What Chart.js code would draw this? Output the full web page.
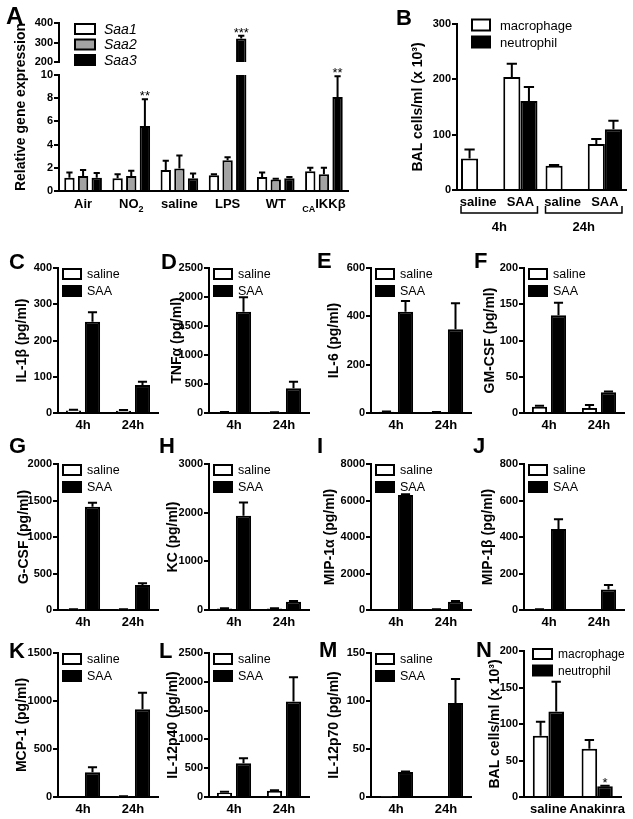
<!DOCTYPE html>
<html>
<head>
<meta charset="utf-8">
<script src="https://cdn.jsdelivr.net/npm/chart.js@4.4.1/dist/chart.umd.min.js"></script>
<style>
  body { margin: 0; background: #fff; }
  #fig { position: relative; width: 633px; height: 819px; overflow: hidden;
         font-family: 'Liberation Sans', Arial, Helvetica, sans-serif; color: #000; }
  #fig canvas { position: absolute; }
  .letter { position: absolute; font-weight: bold; font-size: 22px; line-height: 22px; }
  .vtitle { position: absolute; font-weight: bold; font-size: 14px; white-space: nowrap;
            transform: translate(-50%, -50%) rotate(-90deg); }
</style>
</head>
<body>
<div id="fig"></div>
<script>
// ---- panel A: relative gene expression ----
const aCategories = ['Air', 'NO_{2}', 'saline', 'LPS', 'WT', '_{CA}IKKβ'];
const saa1 = [1.15, 1.1, 1.8, 1.35, 1.2, 1.7];
const saa1Sem = [0.45, 0.35, 0.8, 0.1, 0.4, 0.3];
const saa2 = [1.3, 1.3, 1.95, 2.65, 1.0, 1.45];
const saa2Sem = [0.5, 0.45, 1.1, 0.25, 0.05, 0.55];
const saa3 = [1.15, 5.6, 1.1, 320, 1.1, 8.1];
const saa3Sem = [0.4, 2.3, 0.4, 15, 0.1, 1.8];
const saa3Stars = ['', '**', '', '***', '', '**'];
const aLowTicks = [0, 2, 4, 6, 8, 10];
const aHighTicks = [200, 300, 400];

// ---- panel B: BAL cells ----
const bCategories = ['saline', 'SAA', 'saline', 'SAA'];
const bGroupLabels = ['4h', '24h'];
const bGroupSpans = [[0, 1], [2, 3]];
const bMacrophage = [57, 204, 44, 83];
const bMacrophageSem = [16, 24, 1, 9];
const bNeutrophil = [null, 161, null, 110];
const bNeutrophilSem = [null, 25, null, 15];
const bTicks = [0, 100, 200, 300];

// ---- panels C-M: cytokines, saline vs SAA ----
const timepoints = ['4h', '24h'];
const il1bSaline = [7, 6], il1bSalineSem = [2, 2], il1bSaa = [252, 77], il1bSaaSem = [26, 9];
const il1bTicks = [0, 100, 200, 300, 400];
const tnfSaline = [12, 10], tnfSalineSem = [4, 4], tnfSaa = [1747, 425], tnfSaaSem = [248, 115];
const tnfTicks = [0, 500, 1000, 1500, 2000, 2500];
const il6Saline = [5, 3], il6SalineSem = [1, 1], il6Saa = [419, 347], il6SaaSem = [44, 107];
const il6Ticks = [0, 200, 400, 600];
const gmcsfSaline = [8.5, 7], gmcsfSalineSem = [1.5, 4], gmcsfSaa = [135, 28.5], gmcsfSaaSem = [17, 1];
const gmcsfTicks = [0, 50, 100, 150, 200];
const gcsfSaline = [8, 8], gcsfSalineSem = [2, 2], gcsfSaa = [1415, 342], gcsfSaaSem = [55, 23];
const gcsfTicks = [0, 500, 1000, 1500, 2000];
const kcSaline = [30, 30], kcSalineSem = [5, 5], kcSaa = [1937, 170], kcSaaSem = [273, 15];
const kcTicks = [0, 1000, 2000, 3000];
const mip1aSaline = [0, 40], mip1aSalineSem = [0, 5], mip1aSaa = [6300, 455], mip1aSaaSem = [40, 35];
const mip1aTicks = [0, 2000, 4000, 6000, 8000];
const mip1bSaline = [3, 0], mip1bSalineSem = [1, 0], mip1bSaa = [444, 113], mip1bSaaSem = [53, 24];
const mip1bTicks = [0, 200, 400, 600, 800];
const mcp1Saline = [0, 5], mcp1SalineSem = [0, 2], mcp1Saa = [257, 913], mcp1SaaSem = [52, 173];
const mcp1Ticks = [0, 500, 1000, 1500];
const p40Saline = [75, 110], p40SalineSem = [17, 8], p40Saa = [585, 1660], p40SaaSem = [87, 420];
const p40Ticks = [0, 500, 1000, 1500, 2000, 2500];
const p70Saline = [0.5, 0], p70SalineSem = [0, 0], p70Saa = [26, 98], p70SaaSem = [0.5, 25];
const p70Ticks = [0, 50, 100, 150];

// ---- panel N: Anakinra ----
const nCategories = ['saline', 'Anakinra'];
const nMacrophage = [84, 66], nMacrophageSem = [19, 12];
const nNeutrophil = [117, 14.7], nNeutrophilSem = [41, 0.8];
const nNeutrophilStars = ['', '*'];
const nTicks = [0, 50, 100, 150, 200];

const FONT = "'Liberation Sans', Arial, Helvetica, sans-serif";
Chart.defaults.font.family = FONT;
Chart.defaults.color = '#000';

const fig = document.getElementById('fig');
const YW = 58, PR = 4;
const WHITE = '#ffffff', GREY = '#a3a3a3', BLACK = '#000000';

// upward SEM bars and significance stars
const errorBars = {
  id: 'errorBars',
  afterDatasetsDraw(chart) {
    const ctx = chart.ctx, y = chart.scales.y;
    chart.data.datasets.forEach((ds, i) => {
      const meta = chart.getDatasetMeta(i);
      meta.data.forEach((bar, j) => {
        const v = ds.data[j];
        if (v == null || v > y.max) return;
        const e = ds.errors ? (ds.errors[j] || 0) : 0;
        const top = y.getPixelForValue(v + e);
        ctx.save();
        ctx.strokeStyle = '#000';
        ctx.lineWidth = 2;
        if (e > 0) {
          const cap = bar.width * 0.3;
          ctx.beginPath();
          ctx.moveTo(bar.x, bar.y);
          ctx.lineTo(bar.x, top);
          ctx.moveTo(bar.x - cap, top);
          ctx.lineTo(bar.x + cap, top);
          ctx.stroke();
        }
        if (ds.stars && ds.stars[j]) {
          ctx.fillStyle = '#000';
          ctx.font = '13px ' + FONT;
          ctx.textAlign = 'center';
          ctx.textBaseline = 'alphabetic';
          ctx.fillText(ds.stars[j], bar.x, top + 1);
        }
        ctx.restore();
      });
    });
  }
};

// boxed legend inside the plot area
const boxLegend = {
  id: 'boxLegend',
  afterDraw(chart, args, o) {
    const {ctx, chartArea} = chart;
    chart.data.datasets.forEach((ds, k) => {
      const x = chartArea.left + o.dx;
      const yc = chartArea.top + o.dy + k * o.gap;
      ctx.save();
      ctx.fillStyle = ds.backgroundColor;
      ctx.fillRect(x, yc - o.bh / 2, o.bw, o.bh);
      ctx.strokeStyle = '#000';
      ctx.lineWidth = 2;
      ctx.strokeRect(x, yc - o.bh / 2, o.bw, o.bh);
      ctx.fillStyle = '#000';
      ctx.font = o.font;
      ctx.textBaseline = 'middle';
      ctx.textAlign = 'left';
      ctx.fillText(ds.label, x + o.bw + o.tg, yc + 1);
      ctx.restore();
    });
  }
};

// category labels with subscripts written as _{..}
const subLabels = {
  id: 'subLabels',
  afterDraw(chart) {
    const {ctx, chartArea, scales: {x}} = chart;
    const mainFont = 'bold 13px ' + FONT, subFont = 'bold 9px ' + FONT;
    ctx.save();
    ctx.fillStyle = '#000';
    ctx.textAlign = 'left';
    ctx.textBaseline = 'alphabetic';
    chart.data.labels.forEach((lab, i) => {
      const parts = lab.split(/(_\{[^}]*\})/).filter(Boolean).map(p =>
        p.startsWith('_{') ? {t: p.slice(2, -1), sub: true} : {t: p, sub: false});
      let total = 0;
      parts.forEach(p => {
        ctx.font = p.sub ? subFont : mainFont;
        p.w = ctx.measureText(p.t).width;
        total += p.w;
      });
      let cx = x.getPixelForValue(i) - total / 2;
      const base = chartArea.bottom + 17;
      parts.forEach(p => {
        ctx.font = p.sub ? subFont : mainFont;
        ctx.fillText(p.t, cx, p.sub ? base + 4 : base);
        cx += p.w;
      });
    });
    ctx.restore();
  }
};

// brackets grouping categories under the axis
function groupBrackets(labels, spans, catPct) {
  return {
    id: 'groupBrackets',
    afterDraw(chart) {
      const {ctx, chartArea, scales: {x}} = chart;
      const half = (x.width / chart.data.labels.length) * catPct / 2;
      const yb = chartArea.bottom + 23;
      ctx.save();
      ctx.strokeStyle = '#000';
      ctx.lineWidth = 1.5;
      ctx.fillStyle = '#000';
      ctx.font = 'bold 13px ' + FONT;
      ctx.textAlign = 'center';
      ctx.textBaseline = 'middle';
      spans.forEach((s, k) => {
        const x0 = x.getPixelForValue(s[0]) - half;
        const x1 = x.getPixelForValue(s[1]) + half;
        ctx.beginPath();
        ctx.moveTo(x0, yb - 7);
        ctx.lineTo(x0, yb);
        ctx.lineTo(x1, yb);
        ctx.lineTo(x1, yb - 7);
        ctx.stroke();
        ctx.fillText(labels[k], (x0 + x1) / 2, chartArea.bottom + 37);
      });
      ctx.restore();
    }
  };
}

function bars(label, data, errors, fill, stars) {
  return {label, data, errors, stars, backgroundColor: fill, borderColor: '#000',
          borderWidth: 2, borderSkipped: 'start', clip: 0};
}

function barChart(o) {
  const pt = o.pt ?? 8, pb = o.pb ?? 2;
  const xh = o.showX === false ? 0 : o.xh;
  const w = YW + (o.box.right - o.box.left) + PR;
  const h = pt + (o.box.bottom - o.box.top) + xh + pb;
  const canvas = document.createElement('canvas');
  canvas.width = w;
  canvas.height = h;
  Object.assign(canvas.style, {left: (o.box.left - YW) + 'px', top: (o.box.top - pt) + 'px',
                               width: w + 'px', height: h + 'px'});
  fig.appendChild(canvas);
  o.datasets.forEach(d => { d.categoryPercentage = o.catPct; d.barPercentage = o.barPct; });
  const titleOffset = o.titleOffset ?? 35;
  return new Chart(canvas, {
    type: 'bar',
    data: {labels: o.categories, datasets: o.datasets},
    options: {
      responsive: false,
      animation: false,
      devicePixelRatio: 1,
      layout: {padding: {left: 0, right: PR, top: pt, bottom: pb}},
      plugins: {legend: {display: false}, tooltip: {enabled: false}, boxLegend: o.legend || false},
      scales: {
        x: {
          display: o.showX !== false,
          offset: true,
          afterFit: s => { s.height = xh; },
          border: {color: '#000', width: 2},
          grid: {display: false, drawTicks: false},
          ticks: {display: !o.customX, color: '#000', padding: 5, maxRotation: 0, autoSkip: false,
                  font: {size: 13, weight: 'bold'}}
        },
        y: {
          min: o.ticks[0],
          max: o.ticks[o.ticks.length - 1],
          afterBuildTicks: s => { s.ticks = o.ticks.map(v => ({value: v})); },
          afterFit: s => { s.width = YW; },
          border: {color: '#000', width: 2},
          grid: {drawOnChartArea: false, color: '#000', lineWidth: 2, tickLength: 5},
          ticks: {color: '#000', padding: 1, font: {size: 11, weight: 'bold'}, callback: v => String(v)},
          title: {display: !!o.title, text: o.title, color: '#000',
                  font: {size: 14, weight: 'bold', lineHeight: 1.2},
                  padding: {top: YW - titleOffset - 8.4, bottom: 0}}
        }
      }
    },
    plugins: [errorBars, boxLegend, ...(o.extraPlugins || [])]
  });
}

// ---- A: broken axis, two stacked plots ----
const aLow = [bars('Saa1', saa1, saa1Sem, WHITE), bars('Saa2', saa2, saa2Sem, GREY),
              bars('Saa3', saa3, saa3Sem, BLACK, saa3Stars)];
const aHigh = [bars('Saa1', saa1.map(v => v >= 200 ? v : null), saa1Sem, WHITE),
               bars('Saa2', saa2.map(v => v >= 200 ? v : null), saa2Sem, GREY),
               bars('Saa3', saa3.map(v => v >= 200 ? v : null), saa3Sem, BLACK, saa3Stars)];
barChart({box: {left: 59, right: 348, top: 23, bottom: 62}, showX: false, pt: 8, pb: 8,
          categories: aCategories, datasets: aHigh, ticks: aHighTicks, catPct: 0.85, barPct: 0.76,
          legend: {dx: 16, dy: 6, gap: 15.5, bw: 20, bh: 10, tg: 9, font: 'italic 14px ' + FONT}});
barChart({box: {left: 59, right: 348, top: 75, bottom: 191}, xh: 30, pt: 16, customX: true,
          categories: aCategories, datasets: aLow, ticks: aLowTicks, catPct: 0.85, barPct: 0.76,
          extraPlugins: [subLabels]});

// ---- B ----
barChart({box: {left: 457, right: 626, top: 24, bottom: 190}, xh: 50, titleOffset: 39,
          title: 'BAL cells/ml (x 10³)', categories: bCategories, ticks: bTicks, catPct: 0.81, barPct: 1,
          datasets: [bars('macrophage', bMacrophage, bMacrophageSem, WHITE),
                     bars('neutrophil', bNeutrophil, bNeutrophilSem, BLACK)],
          legend: {dx: 15, dy: 1, gap: 17, bw: 18, bh: 11, tg: 10, font: '13px ' + FONT},
          extraPlugins: [groupBrackets(bGroupLabels, bGroupSpans, 0.81)]});

// ---- C to M ----
const rowBoxes = [[268, 413], [464, 610], [653, 797]];
const colLefts = [58, 209, 371, 524];
const cytokinePanels = [
  ['IL-1β (pg/ml)', il1bSaline, il1bSalineSem, il1bSaa, il1bSaaSem, il1bTicks, 0, 0, 36],
  ['TNFα (pg/ml)', tnfSaline, tnfSalineSem, tnfSaa, tnfSaaSem, tnfTicks, 0, 1, 32],
  ['IL-6 (pg/ml)', il6Saline, il6SalineSem, il6Saa, il6SaaSem, il6Ticks, 0, 2, 37],
  ['GM-CSF (pg/ml)', gmcsfSaline, gmcsfSalineSem, gmcsfSaa, gmcsfSaaSem, gmcsfTicks, 0, 3, 34],
  ['G-CSF (pg/ml)', gcsfSaline, gcsfSalineSem, gcsfSaa, gcsfSaaSem, gcsfTicks, 1, 0, 34],
  ['KC (pg/ml)', kcSaline, kcSalineSem, kcSaa, kcSaaSem, kcTicks, 1, 1, 36],
  ['MIP-1α (pg/ml)', mip1aSaline, mip1aSalineSem, mip1aSaa, mip1aSaaSem, mip1aTicks, 1, 2, 41],
  ['MIP-1β (pg/ml)', mip1bSaline, mip1bSalineSem, mip1bSaa, mip1bSaaSem, mip1bTicks, 1, 3, 36],
  ['MCP-1 (pg/ml)', mcp1Saline, mcp1SalineSem, mcp1Saa, mcp1SaaSem, mcp1Ticks, 2, 0, 36],
  ['IL-12p40 (pg/ml)', p40Saline, p40SalineSem, p40Saa, p40SaaSem, p40Ticks, 2, 1, 36],
  ['IL-12p70 (pg/ml)', p70Saline, p70SalineSem, p70Saa, p70SaaSem, p70Ticks, 2, 2, 37]
];
cytokinePanels.forEach(([title, sal, salSem, saa, saaSem, ticks, row, col, tOff]) => {
  const left = colLefts[col];
  barChart({box: {left, right: left + 100, top: rowBoxes[row][0], bottom: rowBoxes[row][1]},
            xh: 24, title, titleOffset: tOff, categories: timepoints, ticks, catPct: 0.76, barPct: 0.8,
            datasets: [bars('saline', sal, salSem, WHITE), bars('SAA', saa, saaSem, BLACK)],
            legend: {dx: 5, dy: 6, gap: 17, bw: 18, bh: 10, tg: 6, font: '12.5px ' + FONT}});
});

// ---- N ----
barChart({box: {left: 524, right: 627, top: 651, bottom: 797}, xh: 24, titleOffset: 29,
          title: 'BAL cells/ml (x 10³)', categories: nCategories, ticks: nTicks, catPct: 0.64, barPct: 1,
          datasets: [bars('macrophage', nMacrophage, nMacrophageSem, WHITE),
                     bars('neutrophil', nNeutrophil, nNeutrophilSem, BLACK, nNeutrophilStars)],
          legend: {dx: 9, dy: 3, gap: 16.5, bw: 19, bh: 10, tg: 6, font: '12px ' + FONT}});

// ---- shared axis title of A and panel letters ----
const aTitle = document.createElement('div');
aTitle.className = 'vtitle';
aTitle.textContent = 'Relative gene expression';
aTitle.style.left = '20px';
aTitle.style.top = '107px';
fig.appendChild(aTitle);

const letters = [['A', 7, 8], ['B', 397, 10], ['C', 10, 254], ['D', 162, 254], ['E', 318, 253],
                 ['F', 475, 253], ['G', 10, 438], ['H', 160, 438], ['I', 318, 438], ['J', 474, 438],
                 ['K', 10, 643], ['L', 160, 643], ['M', 320, 642], ['N', 477, 642]];
letters.forEach(([t, x, y]) => {
  const d = document.createElement('div');
  d.className = 'letter';
  d.textContent = t;
  d.style.left = (x - 1) + 'px';
  d.style.top = (y - 3) + 'px';
  if (t === 'A') d.style.fontSize = '24px';
  fig.appendChild(d);
});
</script>
</body>
</html>
